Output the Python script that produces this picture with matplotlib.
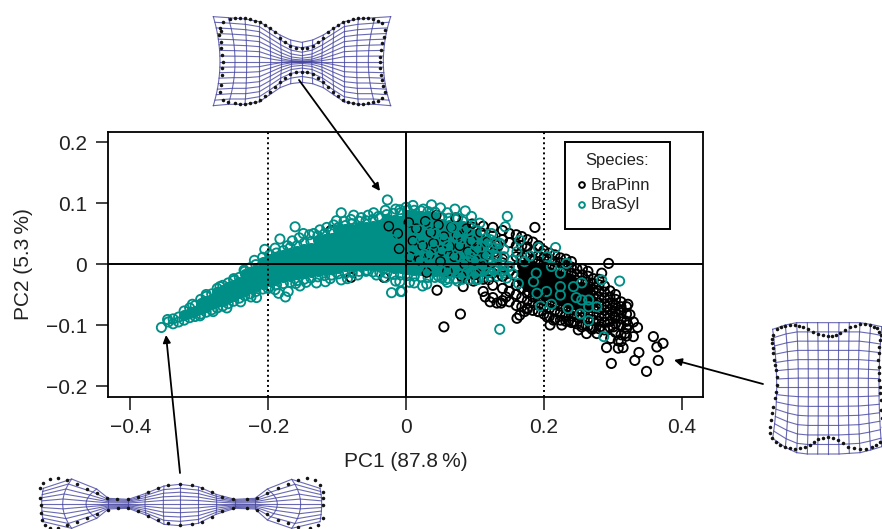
import matplotlib
matplotlib.use("Agg")
import matplotlib.pyplot as plt
import numpy as np
from matplotlib.patches import Rectangle

plt.rcParams['font.family'] = ['Liberation Sans', 'DejaVu Sans']

teal = "#008F86"
grid_blue = "#4444A0"
text_col = "#222222"

# BraSyl main cloud, read column by column: PC1 value, then the PC2 values at it
brasyl_pc1 = [-.345, -.338, -.33, -.322, -.314, -.306, -.298, -.29, -.282, -.274, -.266, -.258, -.25, -.242,
              -.234, -.226, -.218, -.208, -.198, -.188, -.178, -.168, -.158, -.148, -.138, -.128, -.118, -.108,
              -.098, -.088, -.078, -.068, -.058, -.048, -.038, -.028, -.018, -.008, .002, .012, .022, .032,
              .042, .052, .062, .072, .082, .092, .102, .112, .122, .132, .142]
brasyl_pc2 = [[-.095], [-.098, -.09], [-.095, -.087], [-.092, -.083, -.077], [-.088, -.08, -.072],
              [-.086, -.077, -.068], [-.082, -.073, -.064, -.058], [-.079, -.07, -.061, -.053],
              [-.075, -.066, -.058, -.049], [-.072, -.063, -.055, -.046, -.04], [-.069, -.06, -.051, -.043, -.035],
              [-.065, -.056, -.047, -.038, -.031], [-.061, -.052, -.043, -.035, -.027],
              [-.056, -.048, -.039, -.03, -.022], [-.052, -.044, -.035, -.026, -.017, -.012],
              [-.049, -.04, -.031, -.022, -.013, -.006], [-.045, -.036, -.027, -.018, -.009, -.001],
              [-.041, -.032, -.023, -.014, -.005, .004, .011], [-.037, -.028, -.019, -.01, -.001, .008, .015],
              [-.034, -.025, -.016, -.007, .002, .011, .018], [-.032, -.022, -.012, -.003, .006, .015, .022],
              [-.03, -.02, -.01, 0, .009, .018, .027], [-.027, -.017, -.007, .003, .012, .021, .03],
              [-.025, -.015, -.005, .005, .015, .025, .034], [-.023, -.013, -.003, .007, .017, .027, .037],
              [-.021, -.011, -.001, .009, .019, .029, .039, .046], [-.019, -.009, .001, .011, .021, .031, .041, .05],
              [-.018, -.008, .003, .013, .023, .033, .043, .053],
              [-.016, -.006, .004, .015, .025, .035, .045, .055, .06],
              [-.015, -.004, .006, .017, .027, .037, .047, .057, .063],
              [-.014, -.003, .007, .018, .028, .038, .048, .058, .066],
              [-.012, -.002, .009, .019, .029, .04, .05, .06, .07],
              [-.012, -.001, .01, .02, .03, .041, .051, .061, .071],
              [-.013, -.002, .009, .02, .031, .042, .052, .063, .073],
              [-.014, -.003, .008, .019, .03, .041, .052, .063, .075],
              [-.015, -.004, .007, .018, .029, .04, .051, .062, .073, .081],
              [-.017, -.006, .006, .017, .028, .039, .05, .061, .072, .083],
              [-.018, -.007, .005, .016, .027, .038, .049, .06, .071, .084],
              [-.019, -.008, .004, .015, .026, .037, .048, .059, .07, .081, .088],
              [-.02, -.009, .003, .014, .025, .036, .047, .058, .069, .08, .088],
              [-.021, -.01, .002, .013, .024, .035, .046, .057, .068, .079, .087],
              [-.022, -.011, .001, .012, .023, .034, .045, .056, .067, .078, .086],
              [-.022, -.011, 0, .011, .022, .033, .044, .055, .066, .077, .085],
              [-.023, -.012, -.001, .01, .021, .032, .043, .054, .065, .076],
              [-.024, -.012, -.002, .009, .02, .031, .042, .053, .064, .075],
              [-.024, -.013, -.002, .008, .019, .03, .041, .052, .063, .073],
              [-.025, -.014, -.003, .007, .018, .029, .04, .051, .062, .07],
              [-.025, -.014, -.004, .006, .017, .028, .039, .05, .06],
              [-.026, -.015, -.005, .005, .016, .027, .038, .049, .056],
              [-.022, -.012, -.002, .008, .018, .029, .04, .05],
              [-.02, -.01, 0, .01, .02, .03, .04], [-.02, -.008, .003, .014, .025, .036], [-.015, -.002, .012, .024]]

# BraPinn main cloud, same layout
brapinn_pc1 = [.098, .112, .126, .14, .15, .16, .168, .176, .184, .192, .2, .208, .216, .224, .232, .24, .248, .256,
               .264, .272, .28, .288, .296, .304, .312, .32]
brapinn_pc2 = [[-.028, .06], [-.045, -.025, .062], [-.055, -.035, -.015, .06], [-.06, -.04, -.02, .002, .04, .055],
               [-.062, -.045, -.03, -.012, .035, .05], [-.068, -.05, -.035, -.02, -.005, .012, .03, .048],
               [-.07, -.055, -.04, -.028, -.015, -.002, .012, .03, .045],
               [-.074, -.06, -.048, -.036, -.024, -.012, .002, .015, .028, .04],
               [-.076, -.064, -.054, -.044, -.034, -.024, -.014, -.004, .008, .02, .036],
               [-.078, -.067, -.057, -.047, -.037, -.027, -.017, -.007, .004, .014, .03],
               [-.082, -.07, -.06, -.05, -.04, -.03, -.02, -.01, 0, .01, .022],
               [-.086, -.073, -.063, -.053, -.043, -.033, -.023, -.013, -.003, .008, .018],
               [-.09, -.076, -.066, -.056, -.046, -.036, -.026, -.016, -.006, .004, .015],
               [-.092, -.08, -.069, -.059, -.049, -.039, -.029, -.019, -.009, .002, .01],
               [-.094, -.083, -.072, -.062, -.052, -.042, -.032, -.022, -.012, -.002, .008],
               [-.096, -.085, -.075, -.065, -.055, -.045, -.035, -.025, -.015, -.005, .004],
               [-.098, -.087, -.077, -.067, -.057, -.047, -.037, -.027, -.017, -.008],
               [-.1, -.088, -.078, -.068, -.058, -.048, -.038, -.028, -.018, -.008],
               [-.102, -.09, -.08, -.07, -.06, -.05, -.04, -.03, -.02, -.012],
               [-.104, -.092, -.082, -.072, -.062, -.052, -.042, -.032, -.024],
               [-.106, -.094, -.084, -.074, -.064, -.054, -.044, -.034, -.025],
               [-.108, -.096, -.086, -.076, -.066, -.056, -.046, -.036],
               [-.104, -.094, -.084, -.074, -.064, -.054, -.044],
               [-.112, -.098, -.088, -.078, -.068, -.058, -.05],
               [-.116, -.1, -.09, -.08, -.07, -.062],
               [-.118, -.106, -.094, -.082, -.07]]

# single BraPinn rings away from the cloud
brapinn_out_pc1 = [.187, .294, .284, .079, .055, .161, .165, .359, .373, .364, .338, .332, .366, .349, .298, .291,
                   .308, .315, .33, .318, .301, .33, .322, .311, .303, .291, .045, .083, .132, .115, .145, .192,
                   .209, .226, .243, .262, .277, .25, .282, .231, .214, -.109, -.08, -.032, .122, .138, .176,
                   .325, .336, .312, .297, .308, .322, .27, .255, .236, .205, .172]
brapinn_out_pc2 = [.06, .001, -.015, -.082, -.103, -.089, -.084, -.119, -.13, -.136, -.145, -.158, -.158, -.176,
                   -.163, -.137, -.138, -.137, -.119, -.114, -.103, -.095, -.066, -.075, -.086, -.07, -.043, -.037,
                   -.064, -.054, -.054, -.078, -.1, -.1, -.095, -.114, -.114, -.108, -.103, -.086, -.092, .055,
                   -.022, -.022, -.062, -.064, -.072,
                   -.083, -.104, -.127, -.122, -.126, -.1, -.107, -.103, -.093, -.087, -.078]

# BraPinn rings that lie on top of the BraSyl cloud
brapinn_top_pc1 = [-.025, -.012, .004, .015, .028, .036, .047, .055, .066, .074, .088, .095, .108, .118, .126,
                   .134, .01, .024, .04, .052, .063, .078, .09, .104, .116, .128, .006, .02, .034, .05, .07, .085,
                   .1, .112, .124, .14, -.01, .03, .06, .08, .1, .12, .14, .044, .072, .096]
brapinn_top_pc2 = [.062, .05, .068, .058, .07, .052, .064, .045, .06, .048, .058, .038, .052, .036, .046, .03,
                   .038, .03, .034, .022, .028, .03, .02, .024, .014, .02, .012, .006, .016, .004, .012, 0, .006,
                   -.004, .002, .008, .025, -.014, -.012, -.02, -.018, -.026, -.02, .08, .076, .066]

# BraSyl rings read one at a time, drawn last
brasyl_top_pc1 = [-.355, -.346, -.299, -.217, -.205, -.183, -.161, -.094, -.076, -.101, -.047, -.027, -.009, 0,
                  -.134, -.149, -.154, -.175, -.185, -.171, -.13, -.117, -.094, -.057, -.043, -.021, -.008, -.009,
                  .147, .217, .31, .284, .287, .136, .012, .024, -.006, .037, .071, .086, .107, .144, .165, .192,
                  .18, .205, .233, .189, .185, .19, .204, .224, .224, .224, .211, .243, .255, .247, .255, .265,
                  .277, .265, .253, .235, .211, .195, .265, .163, .146, .161, .136, .124, .132, .107, .128, .047,
                  .057, .02, .09, .11, .105, .12, .154, .172, .14, .06, .03, .075, .015, .05, .082, .098,
                  -.02, -.005, .008, .022, .032, .043, .056, .068, .08, .092, .102, .116, .126, .01, .027, .041, .062,
                  .078, .094, .11, .13, .004, .018, .036, .052, .07, .088, .104, .12, .142, .155, .13, .15,
                  -.19, -.172, -.165, -.155, -.14, -.125, -.115, -.105, -.09, -.08, -.065, -.055, -.04, -.03, -.015,
                  .01, .025, .05, .06, .075, .095,
                  -.2, -.19, -.16, -.145, -.11, -.085, -.07, -.03, -.015, .005, .03, .06, .075,
                  -.28, -.26, -.24, -.225, -.31, -.29, -.27, -.25, -.235, -.22]
brasyl_top_pc2 = [-.104, -.091, -.085, -.055, .024, .041, .061, .084, .08, .071, .084, .105, .089, .093,
                  .05, .05, -.036, -.054, -.048, -.045, -.031, -.029, -.026, -.01, -.018, -.047, -.045, -.029,
                  .078, .027, -.028, -.026, -.119, -.107, -.031, -.036, -.045, .097, .09, .087, .067, .061, .039,
                  .027, .013, .012, .001, -.015, -.029, -.048, -.045, -.015, -.037, -.051, -.004, -.037, -.031,
                  -.055, -.059, -.059, -.07, -.07, -.082, -.073, -.066, -.069, -.093, -.032, -.023, .02, .034,
                  .05, .012, -.01, -.01, -.02, -.026, .056, .004, .028, -.025, .015, .006, .004, -.012, .03, .012,
                  .042, -.005, -.01, .052, .02,
                  .04, .07, .056, .04, .064, .05, .038, .06, .04, .05, .03, .042, .026, .022, .016, .024, .018,
                  .012, .012, 0, .014, .002, -.006, -.006, -.012, -.01, -.014, -.012, -.014, -.008, -.016, .034, -.004,
                  .026, .03, .038, .043, .048, .056, .06, .064, .07, .073, .076, .08, .078, .088, .09,
                  .096, .09, .092, .084, .075, .078,
                  -.04, -.042, -.032, -.03, -.024, -.024, -.018, -.022, -.028, -.03, -.033, -.03, -.028,
                  -.078, -.072, -.062, -.054, -.066, -.05, -.037, -.024, -.01, .006]

xticks = [-0.4, -0.2, 0, 0.2, 0.4]
yticks = [-0.2, -0.1, 0, 0.1, 0.2]
xtick_labels = ["\u22120.4", "\u22120.2", "0", "0.2", "0.4"]
ytick_labels = ["\u22120.2", "\u22120.1", "0", "0.1", "0.2"]

# deformation grids, in zoomed picture units (3x) from each shape's origin
top_mid = [60, 105, 140, 178, 212, 245, 275, 305, 335, 365, 398, 432, 470, 505, 550]
top_xedge = [40, 85, 135, 178, 208, 240, 272, 305, 338, 370, 402, 432, 475, 525, 572]
top_upper = [35, 38, 42, 50, 70, 90, 105, 112, 105, 90, 70, 50, 42, 38, 35]
top_lower = [302, 298, 298, 290, 270, 248, 236, 232, 236, 248, 270, 290, 298, 298, 302]
top_warp = [1, 1, 1, 1, 1.2, 1.6, 2.2, 2.5, 2.2, 1.6, 1.2, 1, 1, 1, 1]
top_dots_x = [60, 70, 90, 105, 120, 135, 150, 165, 180, 195, 210, 225, 240, 255, 270, 288, 305, 322, 340, 355, 370, 385,
              400, 415, 430, 445, 460, 475, 490, 505, 520, 535, 545, 555, 552, 547, 544, 541, 540, 541, 543, 546, 550, 555,
              545, 535, 520, 505, 490, 475, 460, 445, 430, 415, 400, 385, 370, 355, 340, 322, 305, 288, 270, 255, 240, 225,
              210, 195, 180, 165, 150, 135, 120, 105, 85, 70, 60, 62, 65, 67, 68, 66, 64, 62, 58, 62]
top_dots_y = [70, 50, 42, 40, 38, 40, 42, 47, 52, 59, 68, 82, 98, 112, 122, 128, 130, 128, 122, 110, 98, 82,
              68, 59, 52, 47, 42, 40, 38, 40, 42, 47, 55, 75, 95, 115, 135, 155, 172, 190, 210, 225, 242, 260,
              280, 288, 292, 295, 296, 296, 295, 291, 285, 274, 262, 247, 232, 220, 208, 202, 200, 202, 208, 220, 232, 247,
              262, 274, 285, 291, 295, 296, 296, 295, 292, 285, 262, 240, 210, 190, 170, 150, 130, 110, 90, 78]

right_mid = [50, 85, 115, 145, 175, 205, 235, 265, 295, 325, 357]
right_xedge = [38, 76, 110, 142, 173, 205, 237, 268, 300, 332, 365]
right_upper = [58, 45, 38, 38, 38, 38, 38, 38, 38, 43, 50]
right_lower = [385, 412, 428, 432, 432, 432, 432, 430, 428, 420, 410]
right_warp = [1] * 11
right_dots_x = [40, 50, 62, 75, 90, 105, 118, 130, 145, 160, 175, 190, 203, 215, 228, 240, 255, 270, 285, 300, 315, 330,
                342, 350, 358, 362, 360, 358, 356, 355, 356, 358, 358, 359, 360, 362, 364, 366, 370,
                360, 348, 335, 318, 300, 282, 265, 250, 235, 220, 205, 190, 175, 162, 150, 135, 120, 105, 90, 75, 60, 47, 35, 30,
                31, 33, 36, 40, 44, 47, 50, 50, 48, 46, 43, 40, 38, 36, 35]
right_dots_y = [75, 58, 52, 48, 46, 45, 48, 52, 58, 65, 71, 76, 78, 78, 74, 68, 60, 52, 47, 42, 43, 45,
                50, 55, 65, 75, 90, 110, 130, 150, 170, 190, 210, 230, 250, 270, 300, 325, 350,
                395, 405, 412, 416, 418, 415, 410, 400, 390, 385, 382, 383, 388, 396, 405, 412, 415, 416, 415, 410, 405, 395, 385, 370,
                350, 330, 310, 290, 265, 245, 225, 200, 180, 165, 150, 130, 115, 100, 88]

low_mid = [35, 98, 168, 235, 295, 345, 400, 450, 505, 560, 615, 675, 742, 812, 875]
low_xedge = [40, 125, 200, 235, 295, 348, 402, 450, 505, 558, 615, 675, 712, 785, 870]
low_upper = [70, 42, 72, 100, 103, 85, 63, 58, 65, 88, 103, 100, 72, 43, 70]
low_lower = [170, 190, 160, 132, 130, 150, 178, 182, 175, 148, 130, 132, 165, 190, 170]
low_warp = [1] * 15
low_dots_x = [30, 40, 60, 85, 110, 140, 170, 200, 230, 260, 295, 325, 355, 385, 415, 450, 485, 515, 545, 575, 610, 650,
              680, 710, 745, 775, 805, 830, 855, 870, 880, 880, 878, 878, 865, 840, 805, 775, 745, 710, 680, 650, 610,
              575, 545, 515, 485, 450, 415, 385, 355, 325, 295, 265, 235, 200, 170, 140, 110, 85, 60, 45, 35, 32, 32, 30]
low_dots_y = [70, 55, 42, 40, 45, 58, 72, 85, 98, 103, 103, 95, 80, 68, 60, 58, 60, 68, 80, 95, 103, 103,
              98, 85, 70, 58, 45, 40, 45, 60, 80, 100, 120, 160, 180, 190, 185, 175, 165, 148, 135, 130, 130,
              138, 155, 170, 178, 180, 175, 165, 152, 137, 130, 130, 135, 148, 158, 172, 180, 190, 188, 180, 165, 145, 120, 100]

arrow_starts = [(299, 80), (180, 473), (763, 384)]
arrow_tips = [(380, 191), (166, 335), (674, 360)]


def expand(pc1, pc2, edge, lo, hi):
    # rim points of each column stay as rings, inner ones of the packed stretch go solid
    rim_x, rim_y, in_x, in_y = [], [], [], []
    for a, col in zip(pc1, pc2):
        for i, b in enumerate(col):
            if i < edge or i >= len(col) - edge or a < lo or a > hi:
                rim_x.append(a)
                rim_y.append(b)
            else:
                in_x.append(a)
                in_y.append(b)
    return rim_x, rim_y, in_x, in_y


def draw_shape(ax, x0, y0, mid, edge, upper, lower, warp, cy, rows, dx, dy):
    mid, edge, upper, lower, warp = map(np.array, (mid, edge, upper, lower, warp))
    s = np.linspace(-1, 1, rows)
    X = []
    Y = []
    for m, e, u, l, p in zip(mid, edge, upper, lower, warp):
        t = np.sign(s) * np.abs(s) ** p
        X.append(m + (e - m) * s ** 2)
        Y.append(np.where(t < 0, cy + t * (cy - u), cy + t * (l - cy)))
    X = x0 + np.array(X) / 3
    Y = y0 + np.array(Y) / 3
    ax.plot(X, Y, color=grid_blue, lw=0.8, alpha=0.8)
    ax.plot(X.T, Y.T, color=grid_blue, lw=0.8, alpha=0.8)
    ax.scatter(x0 + np.array(dx) / 3, y0 + np.array(dy) / 3, s=6.5, color="#141414", linewidths=0, zorder=3)


fig = plt.figure(figsize=(8.82, 5.29), dpi=100)
ax = fig.add_axes([108 / 882, 1 - 397 / 529, 595 / 882, 265 / 529])

ring = dict(s=44, linewidths=1.35)
brx, bry, bix, biy = expand(brapinn_pc1, brapinn_pc2, 3, .165, .27)
srx, sry, six, siy = expand(brasyl_pc1, brasyl_pc2, 1, -1, .12)
ax.scatter(brx, bry, facecolors="none", edgecolors="black", zorder=2, **ring)
ax.scatter(bix, biy, facecolors="black", edgecolors="black", zorder=2, **ring)
ax.scatter(brapinn_out_pc1, brapinn_out_pc2, facecolors="none", edgecolors="black", zorder=2, **ring)
ax.scatter(srx, sry, facecolors="none", edgecolors=teal, zorder=3, **ring)
ax.scatter(six, siy, facecolors=teal, edgecolors=teal, zorder=3, **ring)
ax.scatter(brapinn_top_pc1, brapinn_top_pc2, facecolors="none", edgecolors="black", zorder=4, s=44, linewidths=1.0)
ax.scatter(brasyl_top_pc1, brasyl_top_pc2, facecolors="none", edgecolors=teal, zorder=5, **ring)

ax.axhline(0, color="black", lw=1.4, zorder=6)
ax.axvline(0, color="black", lw=1.4, zorder=6)
ax.axvline(-0.2, color="black", lw=1.4, ls=(0, (1, 1.6)), zorder=6)
ax.axvline(0.2, color="black", lw=1.4, ls=(0, (1, 1.6)), zorder=6)

ax.set_xlim(-0.4325, 0.431)
ax.set_ylim(-0.218, 0.2164)
ax.set_xticks(xticks)
ax.set_xticklabels(xtick_labels)
ax.set_yticks(yticks)
ax.set_yticklabels(ytick_labels)
ax.tick_params(length=9, width=1.2, labelsize=15, pad=6, colors=text_col)
for sp in ax.spines.values():
    sp.set_linewidth(1.3)
ax.set_xlabel("PC1 (87.8\u2009%)", fontsize=15, color=text_col, labelpad=11)
ax.set_ylabel("PC2 (5.3\u2009%)", fontsize=15, color=text_col, labelpad=9)

# overlay in picture pixels for legend box, shape insets and arrows
ov = fig.add_axes([0, 0, 1, 1], zorder=10)
ov.set_xlim(0, 882)
ov.set_ylim(529, 0)
ov.axis("off")
ov.patch.set_alpha(0)

ov.add_patch(Rectangle((565, 142), 105, 87, facecolor="white", edgecolor="black", lw=1.4))
ov.text(617, 161, "Species:", fontsize=12, color=text_col, ha="center", va="center")
ov.scatter([582], [185], s=17, facecolors="none", edgecolors="black", linewidths=1.4)
ov.scatter([582], [205], s=17, facecolors="none", edgecolors=teal, linewidths=1.4)
ov.text(591, 185, "BraPinn", fontsize=12, color=text_col, va="center")
ov.text(591, 205, "BraSyl", fontsize=12, color=text_col, va="center")

draw_shape(ov, 200, 5, top_mid, top_xedge, top_upper, top_lower, top_warp, 170, 17, top_dots_x, top_dots_y)
draw_shape(ov, 760, 310, right_mid, right_xedge, right_upper, right_lower, right_warp, 232, 15, right_dots_x, right_dots_y)
draw_shape(ov, 30, 465, low_mid, low_xedge, low_upper, low_lower, low_warp, 117, 11, low_dots_x, low_dots_y)
for a, b in zip(arrow_starts, arrow_tips):
    ov.annotate("", xy=b, xytext=a, arrowprops=dict(arrowstyle="-|>", color="black", lw=1.3, mutation_scale=11,
                                                    shrinkA=0, shrinkB=0))

fig.savefig("out.png", dpi=100)
